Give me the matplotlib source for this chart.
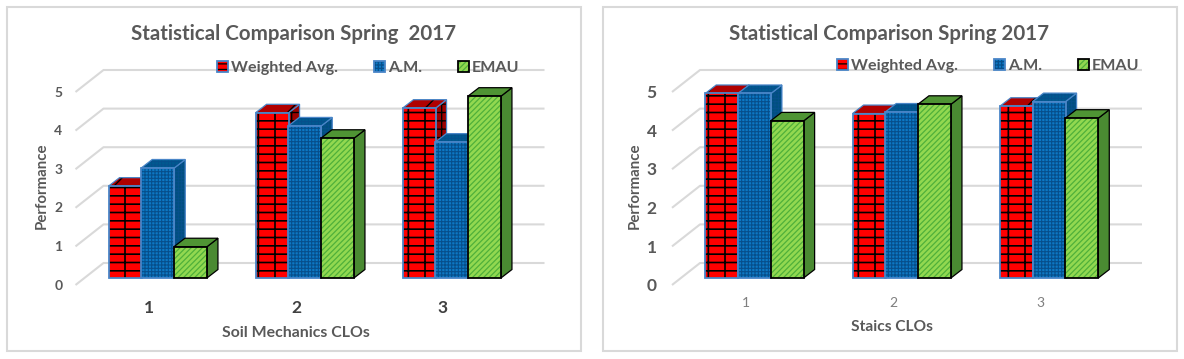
import matplotlib
matplotlib.use("Agg")
import matplotlib.pyplot as plt
from matplotlib.legend_handler import HandlerTuple
from matplotlib.patches import Patch, Polygon, Rectangle
from matplotlib.transforms import ScaledTranslation

W, H = 1184, 359
plt.rcParams['font.family'] = ['Lato', 'DejaVu Sans']

categories = ['1', '2', '3']
series_names = ['Weighted Avg.', 'A.M.', 'EMAU']
soil_weighted = [2.38, 4.28, 4.40]
soil_am = [2.85, 3.94, 3.52]
soil_emau = [0.81, 3.62, 4.71]
statics_weighted = [4.78, 4.26, 4.45]
statics_am = [4.78, 4.30, 4.57]
statics_emau = [4.07, 4.50, 4.14]
y_ticks = [0, 1, 2, 3, 4, 5]

fig = plt.figure(figsize=(W / 100, H / 100), dpi=100, facecolor='white')

STY = [
    dict(face='#ff0000', hc='#000000', edge='#4a86c8', hatch='--|', lw=1.2,
         side='#9c0000', top='#b00000', thatch='/', shatch='--|', lhatch='---'),
    dict(face='#0d78c4', hc='#064f8c', edge='#4a86c8', hatch='+++++', lw=0.8,
         side='#00507f', top='#005a90', thatch='+++++', shatch='+++++', lhatch='+++++'),
    dict(face='#92d850', hc='#4fb03a', edge='#000000', hatch='//////', lw=0.9,
         side='#4a8a32', top='#4f9434', thatch=None, shatch=None, lhatch='//////'),
]


def bar3d(ax, xs, vals, s, width, off, dx, dy):
    for x, v in zip(xs, vals):
        x0 = x + off
        x1 = x0 + width
        plt.rcParams['hatch.linewidth'] = s['lw'] * 0.8
        for pts, col, hat in (
            ([(x1, 0), (x1 + dx, dy), (x1 + dx, v + dy), (x1, v)], s['side'], s['shatch']),
            ([(x0, v), (x1, v), (x1 + dx, v + dy), (x0 + dx, v + dy)], s['top'], s['thatch']),
        ):
            ax.add_patch(Polygon(pts, closed=True, facecolor=col, edgecolor=s['hc'] if hat else 'none',
                                 hatch=hat, linewidth=0, zorder=3, clip_on=False))
            ax.add_patch(Polygon(pts, closed=True, fill=False, edgecolor=s['edge'], linewidth=0.9,
                                 zorder=3, clip_on=False))
        plt.rcParams['hatch.linewidth'] = s['lw']
        ax.bar(x0, v, width, align='edge', color=s['face'], edgecolor=s['hc'], hatch=s['hatch'],
               linewidth=0, zorder=3, clip_on=False)
        ax.bar(x0, v, width, align='edge', fill=False, edgecolor=s['edge'], linewidth=1.3,
               zorder=3, clip_on=False)


def panel(frame, ax_left, ax_w, series, title, title_x, xlabel, xlab_x, xlab_y, xlab_size, cat_style,
          ytick_size, ytick_pad, ylab_x, leg_x, leg_y, legcol):
    fx0, fx1 = frame
    rect = Rectangle((fx0 / W, 1 - 351 / H), (fx1 - fx0) / W, 344 / H, transform=fig.transFigure,
                     facecolor='white', edgecolor='#d9d9d9', linewidth=1.5, zorder=-5)
    fig.add_artist(rect)
    ax = fig.add_axes([ax_left / W, 1 - 278 / H, ax_w / W, 193 / H])
    ax.patch.set_alpha(0)
    ax.set_xlim(-0.5, 2.5)
    ax.set_ylim(0, 5)
    pitch = ax_w / 3
    unit = 193 / 5
    for sp in ax.spines.values():
        sp.set_visible(False)
    gx = 28 / pitch
    gy0 = -7 / unit
    gy1 = 15 / unit
    for t in y_ticks:
        ax.plot([-0.5, -0.5 + gx, 2.5 + gx], [t + gy0, t + gy1, t + gy1], color='#d9d9d9', lw=1.5,
                clip_on=False, zorder=1, solid_capstyle='butt')
    pos = range(len(categories))
    width = 33 / pitch
    for i, (vals, s) in enumerate(zip(series, STY)):
        off = 8.6 / pitch + (i - 1.5) * (32.7 / pitch)
        bar3d(ax, pos, vals, s, width, off, 11 / pitch, 8.5 / unit)

    ax.set_xticks(list(pos), categories)
    ax.set_yticks(y_ticks, [str(t) for t in y_ticks])
    ax.tick_params(axis='both', length=0)
    ax.tick_params(axis='x', pad=cat_style['pad'], labelsize=cat_style['size'], labelcolor=cat_style['color'])
    ax.tick_params(axis='y', pad=ytick_pad, labelsize=ytick_size, labelcolor='#595959')
    for lab in ax.get_xticklabels():
        lab.set_fontweight(cat_style['weight'])
    shift = ScaledTranslation(0, -6.7 / 100, fig.dpi_scale_trans)
    for lab in ax.get_yticklabels():
        lab.set_fontweight('bold')
        lab.set_transform(lab.get_transform() + shift)

    ax.set_title(title, x=(title_x - ax_left) / ax_w, y=(278 - 34) / 193, va='center', ha='center',
                 fontsize=14.8, fontweight='bold', color='#595959', pad=0)
    ax.set_xlabel(xlabel, fontsize=xlab_size, fontweight='bold', color='#595959', va='center')
    ax.xaxis.set_label_coords((xlab_x - ax_left) / ax_w, (278 - xlab_y) / 193)
    ax.set_ylabel('Performance', fontsize=10.8, fontweight='bold', color='#595959', va='center')
    ax.yaxis.set_label_coords((ylab_x - ax_left) / ax_w, (278 - 186) / 193)

    handles = []
    for s in STY:
        plt.rcParams['hatch.linewidth'] = s['lw']
        handles.append((Patch(facecolor=s['face'], edgecolor=s['hc'], hatch=s['lhatch'], linewidth=0),
                        Patch(fill=False, edgecolor=s['edge'], linewidth=1.3)))
    fs = leg_y[1]
    fpx = fs * 100 / 72
    leg = ax.legend(handles=handles, labels=series_names, ncol=3, frameon=False, loc='center left',
                    bbox_to_anchor=(leg_x / W, 1 - leg_y[0] / H), bbox_transform=fig.transFigure,
                    handler_map={tuple: HandlerTuple(ndivide=1, pad=0)},
                    handlelength=11 / fpx, handleheight=11 / fpx, handletextpad=3 / fpx,
                    columnspacing=legcol / fpx, borderpad=0, borderaxespad=0,
                    prop=dict(size=fs, weight='bold'))
    for t in leg.get_texts():
        t.set_color('#595959')
    return ax


panel((7, 581), 75.5, 441, [soil_weighted, soil_am, soil_emau],
      'Statistical Comparison Spring  2017', 293.5, 'Soil Mechanics CLOs', 296, 333, 11.4,
      dict(pad=16, size=12.5, color='#404040', weight='bold'), 10, 9.5, 42, 217, (68, 11.6), 36)
panel((603, 1177), 672, 442, [statics_weighted, statics_am, statics_emau],
      'Statistical Comparison Spring 2017', 889, 'Staics CLOs', 892, 327, 11.2,
      dict(pad=14, size=10, color='#7f7f7f', weight='normal'), 12.5, 11, 635, 837, (66, 11.6), 36)

fig.savefig('out.png', dpi=100, facecolor='white')
